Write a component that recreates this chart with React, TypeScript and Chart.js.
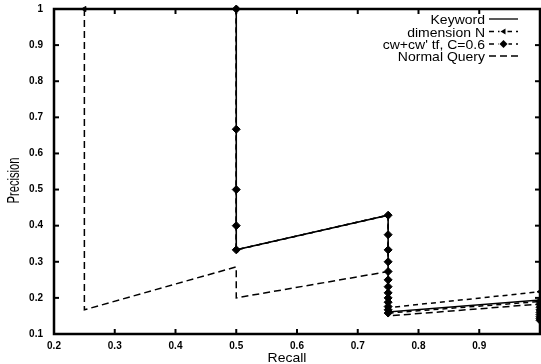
import React, { useEffect, useRef } from 'react';
import { Chart, registerables } from 'chart.js';

Chart.register(...registerables);

// ---- tick values / labels ----
const xTickValues = [0.2, 0.3, 0.4, 0.5, 0.6, 0.7, 0.8, 0.9];
const xTickLabels = ['0.2', '0.3', '0.4', '0.5', '0.6', '0.7', '0.8', '0.9'];
const yTickValues = [0.1, 0.2, 0.3, 0.4, 0.5, 0.6, 0.7, 0.8, 0.9, 1];
const yTickLabels = ['0.1', '0.2', '0.3', '0.4', '0.5', '0.6', '0.7', '0.8', '0.9', '1'];

const xTitle = 'Recall';
const yTitle = 'Precision';
const seriesNames = ['Keyword', 'dimension N', "cw+cw' tf, C=0.6", 'Normal Query'];

// ---- series ----
const keywordRecall = [0.25, 0.5, 0.5, 0.75, 0.75, 1.0];
const keywordPrecision = [1, 1, 0.333, 0.429, 0.161, 0.194];

const dimensionRecall = [0.25, 0.5, 0.5, 0.75, 0.75, 1.0];
const dimensionPrecision = [1, 1, 0.333, 0.429, 0.173, 0.217];

const cwRecall = [
  0.5, 0.5, 0.5, 0.5, 0.5,
  0.75, 0.75, 0.75, 0.75, 0.75, 0.75, 0.75, 0.75, 0.75, 0.75, 0.75, 0.75, 0.75,
  1.0, 1.0, 1.0, 1.0, 1.0, 1.0, 1.0, 1.0, 1.0,
];
const cwPrecision = [
  1, 0.667, 0.5, 0.4, 0.333,
  0.429, 0.375, 0.333, 0.3, 0.273, 0.25, 0.231, 0.214, 0.2, 0.188, 0.176, 0.167, 0.158,
  0.19, 0.182, 0.174, 0.167, 0.16, 0.154, 0.148, 0.143, 0.138,
];

const normalRecall = [0.25, 0.25, 0.5, 0.5, 0.75, 0.75, 1.0];
const normalPrecision = [1, 0.167, 0.286, 0.2, 0.273, 0.15, 0.183];

const toPoints = (xs: number[], ys: number[]) => xs.map((x, i) => ({ x, y: ys[i] }));

const FONT = '"Liberation Sans", Arial, Helvetica, sans-serif';

const zeroPadding = (s: any) => {
  s.paddingTop = 0;
  s.paddingBottom = 0;
  s.paddingLeft = 0;
  s.paddingRight = 0;
};

const framePlugin = {
  id: 'gnuplotFrame',
  afterDraw(chart: any) {
    const { ctx, chartArea: a, scales } = chart;
    const xs = scales.x;
    const ys = scales.y;
    ctx.save();
    ctx.strokeStyle = '#000';
    ctx.setLineDash([]);
    ctx.lineWidth = 2.5;
    ctx.strokeRect(a.left, a.top, a.right - a.left, a.bottom - a.top);

    const seg = (x1: number, y1: number, x2: number, y2: number) => {
      ctx.beginPath();
      ctx.moveTo(x1, y1);
      ctx.lineTo(x2, y2);
      ctx.stroke();
    };
    ctx.lineWidth = 2;
    const t = 5;
    xs.ticks.forEach((tk: any) => {
      const p = xs.getPixelForValue(tk.value);
      seg(p, a.bottom, p, a.bottom - t);
      seg(p, a.top, p, a.top + t);
    });
    ys.ticks.forEach((tk: any) => {
      const p = ys.getPixelForValue(tk.value);
      seg(a.left, p, a.left + t, p);
      seg(a.right, p, a.right - t, p);
    });

    // axis titles
    ctx.fillStyle = '#000';
    ctx.textAlign = 'center';
    ctx.textBaseline = 'middle';
    ctx.save();
    ctx.translate((a.left + a.right) / 2 - 10, a.bottom + 25);
    ctx.scale(1, 0.85);
    ctx.font = `14px ${FONT}`;
    ctx.fillText(xTitle, 0, 0);
    ctx.restore();
    ctx.save();
    ctx.translate(15, (a.top + a.bottom) / 2 + 9);
    ctx.rotate(-Math.PI / 2);
    ctx.scale(0.7, 1);
    ctx.font = `16px ${FONT}`;
    ctx.fillText(yTitle, 0, 0);
    ctx.restore();

    // key (gnuplot style: text then sample on the right)
    const textRight = 485;
    const sx1 = 489;
    const sx2 = 518;
    const rows = [20, 32.5, 45, 57];
    ctx.textAlign = 'right';
    chart.data.datasets.forEach((ds: any, i: number) => {
      const y = rows[i];
      ctx.save();
      ctx.translate(textRight, y + 1);
      ctx.scale(1, 0.9);
      ctx.font = `14px ${FONT}`;
      ctx.fillStyle = '#000';
      ctx.fillText(ds.label, 0, 0);
      ctx.restore();
      ctx.strokeStyle = '#000';
      ctx.lineWidth = 1.3;
      ctx.setLineDash(ds.borderDash || []);
      seg(sx1, y - 1, sx2, y - 1);
      ctx.setLineDash([]);
      const cx = (sx1 + sx2) / 2;
      if (ds.pointStyle === 'rectRot') {
        ctx.fillStyle = '#fff';
        ctx.fillRect(cx - 5, y - 5, 10, 8);
        ctx.fillStyle = '#000';
        ctx.beginPath();
        ctx.moveTo(cx, y - 5);
        ctx.lineTo(cx + 4, y - 1);
        ctx.lineTo(cx, y + 3);
        ctx.lineTo(cx - 4, y - 1);
        ctx.closePath();
        ctx.fill();
      } else if (ds.pointStyle === 'triangle') {
        ctx.fillStyle = '#fff';
        ctx.fillRect(cx - 4, y - 5, 8, 8);
        ctx.fillStyle = '#000';
        ctx.beginPath();
        ctx.moveTo(cx - 3, y - 1);
        ctx.lineTo(cx + 2, y - 4);
        ctx.lineTo(cx + 2, y + 2);
        ctx.closePath();
        ctx.fill();
      }
    });
    ctx.restore();
  },
};

export default function App() {
  const canvasRef = useRef<HTMLCanvasElement | null>(null);

  useEffect(() => {
    const canvas = canvasRef.current;
    if (!canvas) return;
    const chart = new Chart(canvas, {
      type: 'scatter',
      data: {
        datasets: [
          {
            label: seriesNames[0],
            data: toPoints(keywordRecall, keywordPrecision),
            showLine: true,
            borderColor: '#000',
            backgroundColor: '#000',
            borderWidth: 1.6,
            pointRadius: 0,
            borderDash: [],
            clip: false,
            order: 1,
          },
          {
            label: seriesNames[1],
            data: toPoints(dimensionRecall, dimensionPrecision),
            showLine: true,
            borderColor: '#000',
            backgroundColor: '#000',
            borderWidth: 1.5,
            borderDash: [5, 4],
            pointStyle: 'triangle',
            pointRotation: -90,
            pointRadius: 3,
            pointBorderWidth: 1,
            clip: false,
            order: 2,
          },
          {
            label: seriesNames[2],
            data: toPoints(cwRecall, cwPrecision),
            showLine: true,
            borderColor: '#000',
            backgroundColor: '#000',
            borderWidth: 1.5,
            borderDash: [5, 4],
            pointStyle: 'rectRot',
            pointRadius: 4,
            pointBorderWidth: 1,
            clip: false,
            order: 0,
          },
          {
            label: seriesNames[3],
            data: toPoints(normalRecall, normalPrecision),
            showLine: true,
            borderColor: '#000',
            backgroundColor: '#000',
            borderWidth: 1.5,
            borderDash: [7, 4],
            pointRadius: 0,
            clip: false,
            order: 3,
          },
        ],
      },
      options: {
        responsive: false,
        animation: false,
        events: [],
        layout: { autoPadding: false, padding: { top: 9, right: 1, left: 0, bottom: 0 } },
        plugins: {
          legend: { display: false },
          title: { display: false },
          subtitle: { display: false },
          tooltip: { enabled: false },
        },
        scales: {
          x: {
            type: 'linear',
            min: 0.2,
            max: 1.0,
            afterBuildTicks: (s: any) => {
              s.ticks = xTickValues.map((v) => ({ value: v }));
            },
            afterFit: (s: any) => {
              s.height = 30;
              zeroPadding(s);
            },
            grid: { display: false, drawTicks: false },
            border: { display: false },
            ticks: {
              padding: 6,
              color: '#000',
              maxRotation: 0,
              autoSkip: false,
              font: { family: FONT, size: 10, weight: 'bold' },
              callback: (v: any) => {
                const i = xTickValues.findIndex((t) => Math.abs(t - v) < 1e-9);
                return i >= 0 ? xTickLabels[i] : '';
              },
            },
            title: { display: false, text: xTitle },
          },
          y: {
            type: 'linear',
            min: 0.1,
            max: 1.0,
            afterBuildTicks: (s: any) => {
              s.ticks = yTickValues.map((v) => ({ value: v }));
            },
            afterFit: (s: any) => {
              s.width = 54;
              zeroPadding(s);
            },
            grid: { display: false, drawTicks: false },
            border: { display: false },
            ticks: {
              padding: 11,
              color: '#000',
              autoSkip: false,
              font: { family: FONT, size: 10, weight: 'bold' },
              callback: (v: any) => {
                const i = yTickValues.findIndex((t) => Math.abs(t - v) < 1e-9);
                return i >= 0 ? yTickLabels[i] : '';
              },
            },
            title: { display: false, text: yTitle },
          },
        },
      },
      plugins: [framePlugin],
    } as any);
    return () => chart.destroy();
  }, []);

  return (
    <div style={{ position: 'absolute', left: 0, top: 0, width: 541, height: 364, background: '#fff' }}>
      <canvas ref={canvasRef} width={541} height={364} />
    </div>
  );
}
